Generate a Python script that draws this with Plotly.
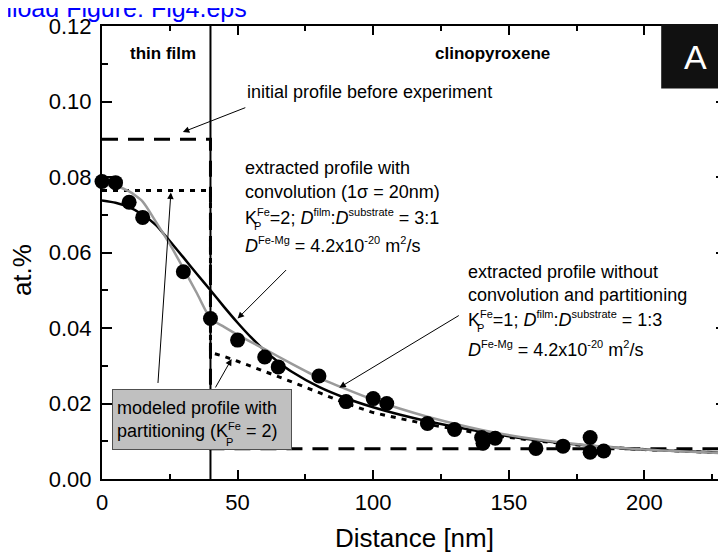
import plotly.graph_objects as go

# ---------------- data ----------------
# measured profile points (distance in nm, concentration in at.%)
meas_x = [0, 5, 10, 15, 30, 40, 50, 60, 65, 80, 90, 100, 105, 120, 130,
          140, 140.5, 145, 160, 170, 180, 180, 185]
meas_y = [0.0788, 0.0785, 0.0733, 0.0693, 0.0549, 0.0425, 0.0368, 0.0323,
          0.0297, 0.0273, 0.0205, 0.0213, 0.0200, 0.0147, 0.0131, 0.0110,
          0.0095, 0.0108, 0.0081, 0.0087, 0.0110, 0.0071, 0.0074]

# extracted profile with convolution (black)
conv_x = [0, 5, 10, 15, 20, 25, 30, 35, 40, 45, 50, 55, 60, 65, 70, 80, 90,
          100, 110, 120, 140, 160, 180, 200, 230]
conv_y = [0.0738, 0.0732, 0.0720, 0.0700, 0.0672, 0.0630, 0.0587, 0.0543,
          0.0500, 0.0456, 0.0414, 0.0375, 0.0340, 0.0310, 0.0284, 0.0244,
          0.0214, 0.0190, 0.0170, 0.0153, 0.0125, 0.0103, 0.0088, 0.0078,
          0.0069]

# extracted profile without convolution and partitioning (grey)
noconv_x = [0, 5, 10, 15, 20, 25, 30, 35, 40, 45, 50, 60, 70, 80, 90, 100,
            110, 120, 140, 160, 180, 200, 230]
noconv_y = [0.0780, 0.0776, 0.0762, 0.0735, 0.0680, 0.0622, 0.0558, 0.0492,
            0.0425, 0.0403, 0.0382, 0.0344, 0.0305, 0.0268, 0.0238, 0.0210,
            0.0186, 0.0165, 0.0130, 0.0105, 0.0089, 0.0078, 0.0068]

# modeled profile with partitioning (dotted)
part_x = [0, 40, 40, 44.5, 50, 57, 62.5, 69, 75, 81, 90, 100, 110, 120, 140,
          160, 180, 200, 230]
part_y = [0.0764, 0.0764, 0.0335, 0.0326, 0.0312, 0.0294, 0.0278, 0.0260,
          0.0242, 0.0226, 0.0200, 0.0176, 0.0160, 0.0145, 0.0120, 0.0101,
          0.0087, 0.0078, 0.0069]

# initial profile before experiment (dashed step)
init_x = [0, 40, 40, 230]
init_y = [0.090, 0.090, 0.008, 0.008]

interface_nm = 40
x_ticks = [0, 50, 100, 150, 200]
y_ticks = [0.00, 0.02, 0.04, 0.06, 0.08, 0.10, 0.12]

# ---------------- layout constants ----------------
OFF = 8                      # page body margin
W, H = 726, 556
ML, MR, MT, MB = 94, 6, 14, 85
PW, PH = W - ML - MR, H - MT - MB
FONT = "Liberation Sans, Arial, sans-serif"


def PX(px):                  # page pixel -> paper x
    return (px - OFF - ML) / PW


def PY(py):                  # page pixel -> paper y
    return (H - MB - (py - OFF)) / PH


def SUP(s):
    return f"<sup><span style='font-size:11px'>{s}</span></sup>"


fig = go.Figure()

fig.add_trace(go.Scatter(x=init_x, y=init_y, mode="lines",
                         line=dict(color="black", width=3, dash="16px,10px"),
                         hoverinfo="skip"))
fig.add_trace(go.Scatter(x=[interface_nm, interface_nm], y=[0, 0.12],
                         mode="lines", line=dict(color="black", width=2),
                         hoverinfo="skip"))
fig.add_trace(go.Scatter(x=part_x, y=part_y, mode="lines",
                         line=dict(color="black", width=3, dash="5px,6px"),
                         hoverinfo="skip"))
fig.add_trace(go.Scatter(x=conv_x, y=conv_y, mode="lines",
                         line=dict(color="black", width=2.5, shape="spline",
                                   smoothing=0.6)))
fig.add_trace(go.Scatter(x=noconv_x, y=noconv_y, mode="lines",
                         line=dict(color="#9a9a9a", width=2.5, shape="spline",
                                   smoothing=0.6)))
fig.add_trace(go.Scatter(x=meas_x, y=meas_y, mode="markers",
                         marker=dict(color="black", size=15),
                         cliponaxis=False))

ann = []


def txt(text, px, py, size=18, xanchor="left", color="black", **kw):
    ann.append(dict(text=text, x=PX(px), y=PY(py), xref="paper", yref="paper",
                    xanchor=xanchor, yanchor="middle", showarrow=False,
                    font=dict(family=FONT, size=size, color=color), **kw))


def arrow(hx, hy, ax, ay):
    ann.append(dict(text="", x=hx, y=hy, xref="x", yref="y", ax=ax, ay=ay,
                    showarrow=True, arrowhead=2, arrowsize=1.3,
                    arrowwidth=1, arrowcolor="black", standoff=0))


# top-left page link (clipped)
ann.append(dict(text="Download Figure: Fig4.eps", x=PX(249), y=PY(4),
                xref="paper", yref="paper", xanchor="right", yanchor="middle",
                showarrow=False, font=dict(family=FONT, size=25, color="#0000ff")))

txt("<b>thin film</b>", 163, 50, size=17, xanchor="center")
txt("<b>clinopyroxene</b>", 494, 50, size=17, xanchor="center")
txt("initial profile before experiment", 245, 89)

# block 1
txt("extracted profile with", 243, 165)
txt("convolution (1σ = 20nm)", 243, 189)
txt("K" + SUP("Fe") + "=2; <i>D</i>" + SUP("film") + ":<i>D</i>" + SUP("substrate") + " = 3:1", 243, 215)
txt("P", 258, 224, size=11, xanchor="center")
txt("<i>D</i>" + SUP("Fe-Mg") + " = 4.2x10" + SUP("-20") + " m" + SUP("2") + "/s", 243, 243)

# block 2
txt("extracted profile without", 467, 270)
txt("convolution and partitioning", 467, 293)
txt("K" + SUP("Fe") + "=1; <i>D</i>" + SUP("film") + ":<i>D</i>" + SUP("substrate") + " = 1:3", 467, 318)
txt("P", 482, 327, size=11, xanchor="center")
txt("<i>D</i>" + SUP("Fe-Mg") + " = 4.2x10" + SUP("-20") + " m" + SUP("2") + "/s", 467, 348)

# grey box
ann.append(dict(text="modeled profile with<br>partitioning (K" + SUP("Fe") + " = 2)",
                x=PX(112), y=PY(388), xref="paper", yref="paper",
                xanchor="left", yanchor="top", showarrow=False, align="left",
                bgcolor="#c0c0c0", bordercolor="#505050", borderwidth=1,
                borderpad=4, width=170, height=51,
                font=dict(family=FONT, size=18, color="black")))
txt("P", 230, 442, size=11, xanchor="center")

# panel label "A" on a black box
fig.add_shape(type="rect", xref="paper", yref="paper",
              x0=PX(663), x1=PX(745), y0=PY(85), y1=PY(20),
              fillcolor="#111111", line=dict(width=0), layer="above")
txt("A", 697, 53, size=34, xanchor="center", color="white")

# axis titles
txt("Distance [nm]", 416, 539, size=26, xanchor="center")
ann.append(dict(text="at.%", x=PX(22), y=PY(268), xref="paper", yref="paper",
                xanchor="center", yanchor="middle", showarrow=False,
                textangle=-90, font=dict(family=FONT, size=26, color="black")))

# arrows (head in data coords, tail offset in pixels)
arrow(29.8, 0.0919, 64, -25)
arrow(50.0, 0.0425, 50, -50)
arrow(87.5, 0.0242, 121, -73)
arrow(25.4, 0.0759, -13, 192)
arrow(47.8, 0.0318, -17, 30)

fig.update_layout(
    width=W, height=H,
    margin=dict(l=ML, r=MR, t=MT, b=MB, pad=0),
    paper_bgcolor="white", plot_bgcolor="white",
    showlegend=False,
    font=dict(family=FONT, size=22, color="black"),
    annotations=ann,
)
fig.update_xaxes(range=[0, 230.1], tickvals=x_ticks, ticks="inside",
                 ticklen=9, tickwidth=1.5, tickcolor="black",
                 minor=dict(dtick=25, tick0=0, ticks="inside", ticklen=5,
                            tickwidth=1.5, tickcolor="black"),
                 showline=True, linewidth=2, linecolor="black", mirror="ticks",
                 showgrid=False, zeroline=False, ticklabelstandoff=3,
                 tickfont=dict(family=FONT, size=22))
fig.update_yaxes(range=[0, 0.12], tickvals=y_ticks, tickformat=".2f",
                 ticks="inside", ticklen=10, tickwidth=1.5, tickcolor="black",
                 minor=dict(dtick=0.01, tick0=0, ticks="inside", ticklen=6,
                            tickwidth=1.5, tickcolor="black"),
                 showline=True, linewidth=2, linecolor="black", mirror="ticks",
                 showgrid=False, zeroline=False, ticklabelstandoff=4,
                 tickfont=dict(family=FONT, size=22))

fig.write_html("out.html")
